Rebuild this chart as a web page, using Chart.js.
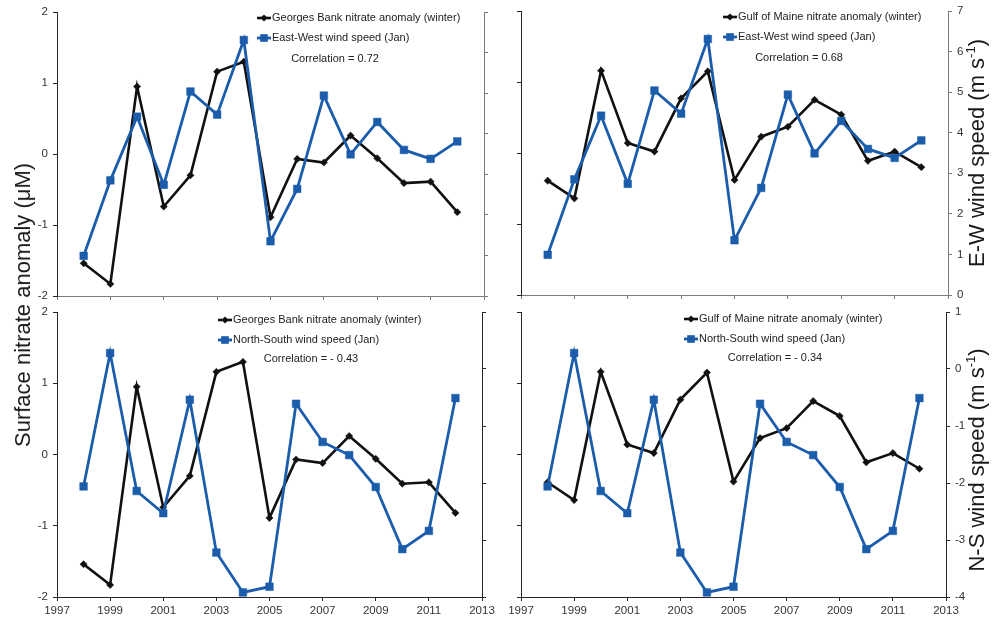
<!DOCTYPE html>
<html>
<head>
<meta charset="utf-8">
<script src="https://cdn.jsdelivr.net/npm/chart.js@4.4.1/dist/chart.umd.min.js"></script>
<style>
  html, body { margin: 0; padding: 0; background: #fff; }
  body { position: relative; width: 1003px; height: 617px; overflow: hidden;
         font-family: "Liberation Sans", Arial, Helvetica, sans-serif; }
  canvas { position: absolute; }
  .axis-title { position: absolute; white-space: nowrap; font-size: 22px; color: #1a1a1a;
                transform: translate(-50%, -50%) rotate(-90deg); line-height: 1; }
  .axis-title sup { font-size: 13px; vertical-align: 9px; line-height: 0; }
</style>
</head>
<body>
<canvas id="gbEastWest"></canvas>
<canvas id="gomEastWest"></canvas>
<canvas id="gbNorthSouth"></canvas>
<canvas id="gomNorthSouth"></canvas>

<div class="axis-title" style="left:23px; top:305px;">Surface nitrate anomaly (μM)</div>
<div class="axis-title" style="left:977px; top:153px;">E-W wind speed (m s<sup>-1</sup>)</div>
<div class="axis-title" style="left:977px; top:460px;">N-S wind speed (m s<sup>-1</sup>)</div>

<script>
// Winter surface nitrate anomalies (µM) and January wind components (m s-1)
const years = [1998, 1999, 2000, 2001, 2002, 2003, 2004, 2005, 2006, 2007, 2008, 2009, 2010, 2011, 2012];
const georgesBankNitrate = [-1.54, -1.83, 0.95, -0.74, -0.30, 1.16, 1.30, -0.89, -0.07, -0.12, 0.26, -0.06, -0.41, -0.39, -0.82];
const gulfOfMaineNitrate = [-0.39, -0.64, 1.16, 0.14, 0.02, 0.77, 1.15, -0.38, 0.23, 0.37, 0.75, 0.54, -0.11, 0.02, -0.20];
const eastWestWind = [0.99, 2.85, 4.42, 2.74, 5.04, 4.47, 6.31, 1.35, 2.64, 4.94, 3.49, 4.29, 3.60, 3.38, 3.81];
const northSouthWind = [-2.06, 0.28, -2.14, -2.53, -0.54, -3.22, -3.92, -3.82, -0.61, -1.28, -1.51, -2.07, -3.16, -2.84, -0.51];

// Axis ticks
const yearTicks = [1997, 1999, 2001, 2003, 2005, 2007, 2009, 2011, 2013];
const nitrateTicks = [-2, -1, 0, 1, 2];
const eastWestTicks = [0, 1, 2, 3, 4, 5, 6, 7];
const northSouthTicks = [-4, -3, -2, -1, 0, 1];

// Series names and correlation notes
const nitrateNames = ['Georges Bank nitrate anomaly (winter)', 'Gulf of Maine nitrate anomaly (winter)'];
const windNames = ['East-West wind speed (Jan)', 'North-South wind speed (Jan)'];
const correlationNotes = ['Correlation = 0.72', 'Correlation = 0.68', 'Correlation = - 0.43', 'Correlation = - 0.34'];

const FONT = '"Liberation Sans", Arial, Helvetica, sans-serif';
const NITRATE_COLOR = '#111111';
const WIND_COLOR = '#1b5cab';
const DARK_AXIS = '#262626';
const GREY_AXIS = '#7a7a7a';

Chart.defaults.font.family = FONT;
Chart.defaults.font.size = 11.5;
Chart.defaults.color = '#3a3a3a';

const toPoints = (xs, ys) => xs.map((x, i) => ({ x: x, y: ys[i] }));

function drawMarker(ctx, style, x, y, r, color) {
  ctx.fillStyle = color;
  ctx.beginPath();
  if (style === 'rectRot') {
    ctx.moveTo(x, y - r); ctx.lineTo(x + r, y); ctx.lineTo(x, y + r); ctx.lineTo(x - r, y);
  } else {
    const s = r * Math.SQRT1_2;
    ctx.rect(x - s, y - s, 2 * s, 2 * s);
  }
  ctx.closePath();
  ctx.fill();
}

// In-plot key: line sample with marker, series name, and correlation note
const seriesKey = {
  id: 'seriesKey',
  afterDraw(chart, args, opts) {
    const { ctx, chartArea } = chart;
    ctx.save();
    ctx.font = '11px ' + FONT;
    ctx.textBaseline = 'middle';
    chart.data.datasets.forEach((ds, i) => {
      const y = chartArea.top + opts.rows[i];
      const x0 = chartArea.left + opts.x;
      ctx.strokeStyle = ds.borderColor;
      ctx.lineWidth = ds.borderWidth;
      ctx.beginPath();
      ctx.moveTo(x0, y);
      ctx.lineTo(x0 + opts.sample, y);
      ctx.stroke();
      drawMarker(ctx, ds.pointStyle, x0 + opts.sample / 2, y, ds.pointRadius, ds.pointBackgroundColor);
      ctx.fillStyle = '#222';
      ctx.textAlign = 'left';
      ctx.fillText(ds.label, x0 + opts.sample + 1, y);
    });
    ctx.textAlign = 'center';
    ctx.fillStyle = '#222';
    ctx.fillText(opts.note, chartArea.left + opts.noteX, chartArea.top + opts.noteY);
    ctx.restore();
  }
};

function makePanel(id, box, spec) {
  const padTop = 12, side = 45, bottom = 22;
  const canvas = document.getElementById(id);
  const w = (box.r - box.l) + 2 * side;
  const h = (box.b - box.t) + padTop + bottom;
  canvas.width = w; canvas.height = h;
  canvas.style.left = (box.l - side) + 'px';
  canvas.style.top = (box.t - padTop) + 'px';
  canvas.style.width = w + 'px';
  canvas.style.height = h + 'px';

  const tickSet = arr => (scale) => { scale.ticks = arr.map(v => ({ value: v })); };

  return new Chart(canvas, {
    type: 'line',
    data: {
      datasets: [
        {
          label: spec.nitrateName,
          data: toPoints(years, spec.nitrate),
          yAxisID: 'yNitrate',
          borderColor: NITRATE_COLOR,
          backgroundColor: NITRATE_COLOR,
          pointBackgroundColor: NITRATE_COLOR,
          pointBorderColor: NITRATE_COLOR,
          borderWidth: 2.6,
          pointStyle: 'rectRot',
          pointRadius: 3.6,
          pointBorderWidth: 0.5,
          tension: 0,
          order: 2
        },
        {
          label: spec.windName,
          data: toPoints(years, spec.wind),
          yAxisID: 'yWind',
          borderColor: WIND_COLOR,
          backgroundColor: WIND_COLOR,
          pointBackgroundColor: WIND_COLOR,
          pointBorderColor: WIND_COLOR,
          borderWidth: 2.8,
          pointStyle: 'rect',
          pointRadius: 5.4,
          pointBorderWidth: 0.5,
          tension: 0,
          order: 1
        }
      ]
    },
    options: {
      responsive: false,
      animation: false,
      events: [],
      layout: { padding: { top: padTop, left: 0, right: 0, bottom: 0 } },
      plugins: {
        legend: { display: false },
        tooltip: { enabled: false },
        seriesKey: spec.key
      },
      scales: {
        x: {
          type: 'linear',
          min: yearTicks[0],
          max: yearTicks[yearTicks.length - 1],
          afterBuildTicks: tickSet(yearTicks),
          afterFit: s => { s.height = bottom; },
          ticks: { display: spec.showYears, padding: 3, maxRotation: 0, autoSkip: false,
                   callback: v => String(v), color: '#333' },
          grid: { drawOnChartArea: false, drawTicks: true, tickLength: 4, color: spec.xColor },
          border: { display: true, color: spec.xColor, width: 1 }
        },
        yNitrate: {
          type: 'linear',
          position: 'left',
          min: nitrateTicks[0],
          max: nitrateTicks[nitrateTicks.length - 1],
          afterBuildTicks: tickSet(nitrateTicks),
          afterFit: s => { s.width = side; },
          ticks: { display: spec.showLeft, padding: 5, color: '#333' },
          grid: { drawOnChartArea: false, drawTicks: true, tickLength: 4, color: DARK_AXIS },
          border: { display: true, color: DARK_AXIS, width: 1 }
        },
        yWind: {
          type: 'linear',
          position: 'right',
          min: spec.windTicks[0],
          max: spec.windTicks[spec.windTicks.length - 1],
          afterBuildTicks: tickSet(spec.windTicks),
          afterFit: s => { s.width = side; },
          ticks: { display: spec.showRight, padding: 5, color: '#333' },
          grid: { drawOnChartArea: false, drawTicks: true, tickLength: 4, color: spec.rightColor },
          border: { display: true, color: spec.rightColor, width: 1 }
        }
      }
    },
    plugins: [seriesKey]
  });
}

const rowsTop = [6, 26];
makePanel('gbEastWest', { l: 57, t: 12, r: 484, b: 296 }, {
  nitrate: georgesBankNitrate, wind: eastWestWind,
  nitrateName: nitrateNames[0], windName: windNames[0], windTicks: eastWestTicks,
  showYears: false, showLeft: true, showRight: false,
  xColor: GREY_AXIS, rightColor: GREY_AXIS,
  key: { x: 200, sample: 14, rows: rowsTop, note: correlationNotes[0], noteX: 278, noteY: 47 }
});
makePanel('gomEastWest', { l: 521, t: 11, r: 948, b: 295 }, {
  nitrate: gulfOfMaineNitrate, wind: eastWestWind,
  nitrateName: nitrateNames[1], windName: windNames[0], windTicks: eastWestTicks,
  showYears: false, showLeft: false, showRight: true,
  xColor: GREY_AXIS, rightColor: GREY_AXIS,
  key: { x: 202, sample: 14, rows: rowsTop, note: correlationNotes[1], noteX: 278, noteY: 47 }
});
makePanel('gbNorthSouth', { l: 57, t: 312, r: 482, b: 597 }, {
  nitrate: georgesBankNitrate, wind: northSouthWind,
  nitrateName: nitrateNames[0], windName: windNames[1], windTicks: northSouthTicks,
  showYears: true, showLeft: true, showRight: false,
  xColor: DARK_AXIS, rightColor: DARK_AXIS,
  key: { x: 161, sample: 14, rows: [8, 28], note: correlationNotes[2], noteX: 254, noteY: 47 }
});
makePanel('gomNorthSouth', { l: 521, t: 312, r: 946, b: 597 }, {
  nitrate: gulfOfMaineNitrate, wind: northSouthWind,
  nitrateName: nitrateNames[1], windName: windNames[1], windTicks: northSouthTicks,
  showYears: true, showLeft: false, showRight: true,
  xColor: DARK_AXIS, rightColor: DARK_AXIS,
  key: { x: 163, sample: 14, rows: [7, 27], note: correlationNotes[3], noteX: 254, noteY: 46 }
});
</script>
</body>
</html>
